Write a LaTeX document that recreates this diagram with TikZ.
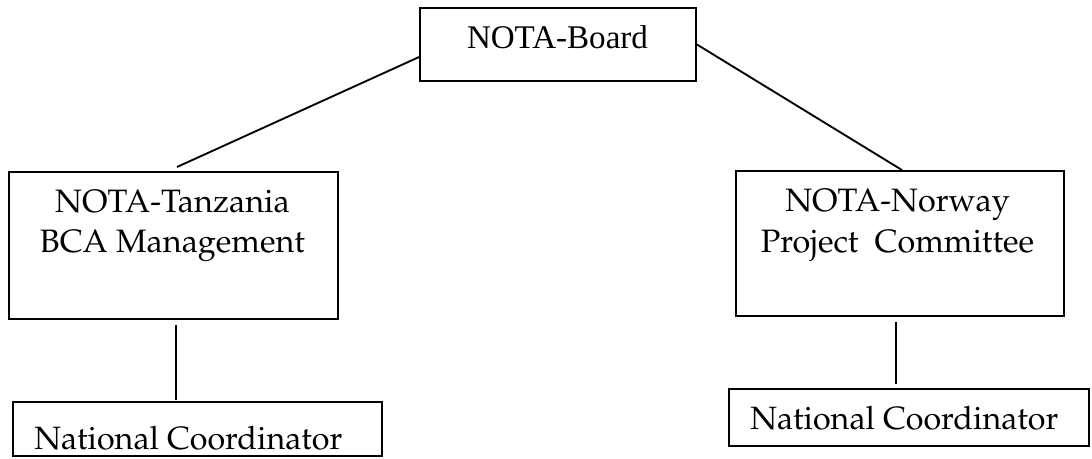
\documentclass[tikz,border=0pt]{standalone}
\usepackage{fontspec}
\newfontfamily\timesf{Liberation Serif}
\newcommand\palf{\fontencoding{T1}\fontfamily{ppl}\selectfont}
\begin{document}
\begin{tikzpicture}[x=0.75pt,y=-0.75pt,
  box/.style={draw=black,line width=1.4pt,rectangle,inner sep=0pt,fill=none},
  link/.style={draw=black,line width=1.4pt},
  txt/.style={inner sep=0pt,anchor=base,font=\palf\fontsize{24.3pt}{28pt}\selectfont},
  txtl/.style={inner sep=0pt,anchor=base west,font=\palf\fontsize{24.2pt}{28pt}\selectfont}]
\useasboundingbox (0,0) rectangle (1092,459);
% boxes
\node[box,minimum width=276*0.75pt,minimum height=73*0.75pt] (board) at (558,44.5) {};
\node[box,minimum width=329*0.75pt,minimum height=147*0.75pt] (tz) at (173.5,245.5) {};
\node[box,minimum width=328*0.75pt,minimum height=145*0.75pt] (nw) at (900,243.5) {};
\node[box,minimum width=369*0.75pt,minimum height=54*0.75pt] (ncl) at (197.5,429) {};
\node[box,minimum width=360*0.75pt,minimum height=57*0.75pt] (ncr) at (909,417.5) {};
% texts
\node[inner sep=0pt,anchor=base,font=\timesf\fontsize{24.8pt}{28pt}\selectfont] (tboard) at (557.5,49) {NOTA-Board};
\node[txt] (ttz1) at (172.5,213) {NOTA-Tanzania};
\node[txt] (ttz2) at (172.5,253) {BCA Management};
\node[txt] (tnw1) at (897.5,212) {NOTA-Norway};
\node[txt] (tnw2) at (897.5,253) {Project\ \ Committee};
\node[txtl] (tncl) at (34,450) {National Coordinator};
\node[txtl] (tncr) at (750,430) {National Coordinator};
% connectors
\coordinate (tzend) at (177,167);
\coordinate (tzb) at (176,325);
\coordinate (nclt) at (176,400);
\coordinate (nwb) at (896,322);
\coordinate (ncrt) at (896,384);
\draw[link] ([yshift=-9.4pt]board.west) -- (tzend);
\draw[link] (board.east) -- ([xshift=1.5pt]nw.north);
\draw[link] (tzb) -- (nclt);
\draw[link] (nwb) -- (ncrt);
\end{tikzpicture}
\end{document}
